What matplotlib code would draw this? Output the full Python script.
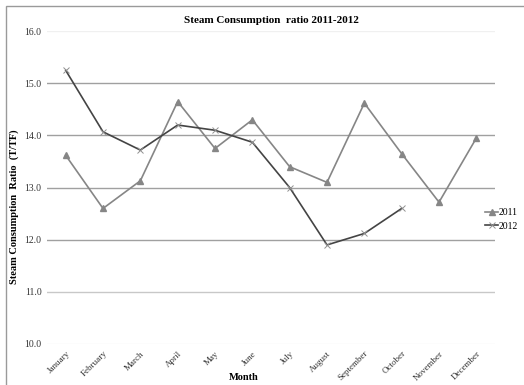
import matplotlib.pyplot as plt
from matplotlib.patches import Rectangle

months = ["January", "February", "March", "April", "May", "June", "July",
          "August", "September", "October", "November", "December"]
ratio_2011 = [13.62, 12.60, 13.13, 14.65, 13.75, 14.30, 13.40, 13.10, 14.62, 13.65, 12.72, 13.95]
ratio_2012 = [15.25, 14.07, 13.72, 14.20, 14.10, 13.87, 13.00, 11.90, 12.12, 12.60]
y_ticks = [10, 11, 12, 13, 14, 15, 16]

plt.rcParams["font.family"] = ["Liberation Serif", "DejaVu Serif"]

fig = plt.figure(figsize=(5.24, 3.85), dpi=100)
ax = fig.add_axes([0.0897, 0.1065, 0.855, 0.8125])

# scanned-page border
fig.patches.append(Rectangle((0.012, -0.01), 1.0, 0.995, transform=fig.transFigure,
                             fill=False, edgecolor="#9a9a9a", linewidth=1.0))

# gridlines (outer ones faint as in the scan)
for t in y_ticks:
    c = "#f0f0f0" if t in (10, 16) else ("#c8c8c8" if t == 11 else "#a0a0a0")
    ax.axhline(t, color=c, linewidth=1.0, zorder=0)

x = list(range(len(months)))
l1, = ax.plot(x, ratio_2011, color="#868686", marker="^", markersize=4.5, linewidth=1.2, label="2011")
l2, = ax.plot(x[:len(ratio_2012)], ratio_2012, color="#444444", marker="x", markersize=4.5,
              markeredgecolor="#909090", markeredgewidth=0.7, linewidth=1.2, label="2012")

ax.set_xlim(-0.5, len(months) - 0.5)
ax.set_ylim(10, 16)
ax.set_yticks(y_ticks)
ax.set_yticklabels([f"{t:.1f}" for t in y_ticks], fontsize=7, color="#333333")
ax.set_xticks(x)
ax.set_xticklabels(months, rotation=45, ha="right", rotation_mode="anchor", fontsize=6.5, color="#333333")
ax.tick_params(length=0, pad=4)
for s in ax.spines.values():
    s.set_visible(False)

ax.set_title("Steam Consumption  ratio 2011-2012", fontsize=8, fontweight="bold", pad=6)
ax.set_ylabel("Steam Consumption  Ratio  (T/TF)", fontsize=7.5, fontweight="bold")
ax.yaxis.set_label_coords(-0.062, 0.44)
ax.set_xlabel("Month", fontsize=7.5, fontweight="bold")
ax.xaxis.set_label_coords(0.44, -0.092)

fig.legend(handles=[l1, l2], loc="center left", bbox_to_anchor=(0.926, 0.43),
           frameon=False, fontsize=7, handlelength=1.3, handletextpad=0.1,
           labelspacing=0.5, borderpad=0, borderaxespad=0)

fig.savefig("out.png", dpi=100)
